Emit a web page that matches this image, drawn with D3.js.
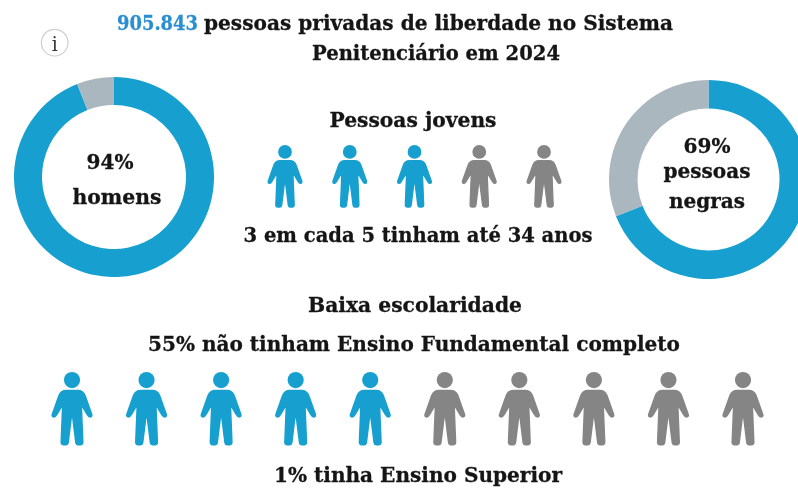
<!DOCTYPE html>
<html>
<head>
<meta charset="utf-8">
<script src="https://cdn.jsdelivr.net/npm/d3@7"></script>
<style>
  html, body { margin: 0; padding: 0; background: #fff; }
  svg { display: block; filter: blur(0.45px); }
  text { font-family: "DejaVu Serif", serif; font-weight: bold; fill: #151515; stroke: #151515; stroke-width: 0.3px; }
  text.num { fill: #2a8fd0; stroke: #2a8fd0; }
  text.info { font-weight: normal; fill: #333; stroke: none; }
</style>
</head>
<body>
<svg id="chart" width="798" height="488"></svg>
<script>
const homens = [94, 6];
const negras = [69, 31];
const jovens = ["azul", "azul", "azul", "cinza", "cinza"];
const escolaridade = ["azul", "azul", "azul", "azul", "azul", "cinza", "cinza", "cinza", "cinza", "cinza"];

const blue = "#17a0cf", grey = "#aab7bf", personGrey = "#858585";

const svg = d3.select("svg#chart");

// person glyph, head top at 0
const person = "M-15,48 Q-29,48 -34,62 L-51,110 Q-53,116 -47,117 Q-43,117 -40,111 L-24,84 " +
  "L-28,182 Q-28,189 -22,189 L-16,189 Q-11,189 -10,183 L-2,118 L2,118 L10,183 Q11,189 16,189 " +
  "L22,189 Q28,189 28,182 L24,84 L40,111 Q43,117 47,117 Q53,116 51,110 L34,62 Q29,48 15,48 Z";

function translate(x, y) {
  return "translate(" + String(x) + "," + String(y) + ")";
}

function donut(values, cx, cy, r0, r1) {
  const pie = d3.pie().sort(null);
  const arc = d3.arc().innerRadius(r0).outerRadius(r1);
  svg.append("g").attr("transform", translate(cx, cy))
    .selectAll("path")
    .data(pie(values))
    .enter()
    .append("path")
    .attr("d", arc)
    .attr("fill", (d, i) => i == 0 ? blue : grey);
}

function people(list, x0, x1, y, k) {
  const x = d3.scalePoint().domain(d3.range(list.length)).range([x0, x1]);
  const g = svg.append("g");
  g.selectAll("g")
    .data(list)
    .enter()
    .append("g")
    .attr("transform", (d, i) => translate(x(i), y) + " scale(" + k + ")")
    .each(function(d) {
      const p = d3.select(this);
      const c = d == "azul" ? blue : personGrey;
      p.append("circle").attr("cy", 21).attr("r", 21).attr("fill", c);
      p.append("path").attr("d", person).attr("fill", c)
        .attr("stroke", c).attr("stroke-width", 4).attr("stroke-linejoin", "round");
    });
}

function label(str, x, y, size, width) {
  return svg.append("text")
    .attr("x", x).attr("y", y)
    .attr("text-anchor", "middle")
    .attr("font-size", size)
    .attr("textLength", width)
    .attr("lengthAdjust", "spacingAndGlyphs")
    .text(str);
}

// title
svg.append("text").attr("class", "num").attr("x", 117).attr("y", 30).attr("font-size", 21)
  .attr("textLength", 81).attr("lengthAdjust", "spacingAndGlyphs")
  .text("905.843");
svg.append("text").attr("x", 204).attr("y", 30).attr("font-size", 21)
  .attr("textLength", 469).attr("lengthAdjust", "spacingAndGlyphs")
  .text("pessoas privadas de liberdade no Sistema");
label("Penitenciário em 2024", 436, 60, 21, 248);

// info icon
svg.append("circle").attr("cx", 54.7).attr("cy", 42.7).attr("r", 13.3)
  .attr("fill", "#fff").attr("stroke", "#cfcfcf").attr("stroke-width", 1.2);
svg.append("text").attr("class", "info").attr("x", 54.7).attr("y", 50.5).attr("text-anchor", "middle")
  .attr("font-size", 20)
  .attr("textLength", 6).attr("lengthAdjust", "spacingAndGlyphs").text("i");

donut(homens, 114, 177, 72, 100);
donut(negras, 708.5, 179.5, 71, 99.5);

label("94%", 110, 169, 21, 47);
label("homens", 117, 204, 21, 89);
label("69%", 707, 153, 21, 47);
label("pessoas", 707, 178, 21, 87);
label("negras", 707, 208, 21, 76);

label("Pessoas jovens", 413, 127, 20.5, 167);
people(jovens, 285, 544, 145, 0.328);
label("3 em cada 5 tinham até 34 anos", 418, 242, 20.5, 349);

label("Baixa escolaridade", 415, 312, 20.5, 214);
label("55% não tinham Ensino Fundamental completo", 414, 351, 20.5, 532);
people(escolaridade, 72, 743, 372, 0.385);
label("1% tinha Ensino Superior", 418, 482, 20.5, 288);
</script>
</body>
</html>
